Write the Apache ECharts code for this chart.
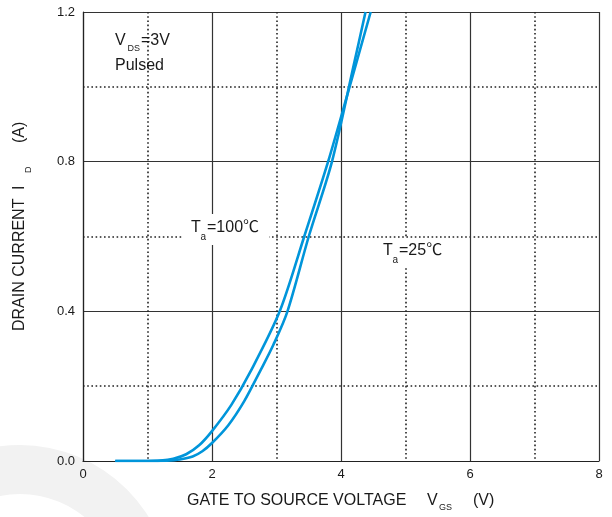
<!DOCTYPE html>
<html>
<head>
<meta charset="utf-8">
<script src="https://cdn.jsdelivr.net/npm/echarts@6/dist/echarts.min.js"></script>
<style>
html,body{margin:0;padding:0;background:#fff;}
#chart{width:612px;height:517px;}
</style>
</head>
<body>
<div id="chart"></div>
<script>
// Data
const vgs25 = [0.5, 1.0, 1.3, 1.5, 1.7, 1.85, 2.0, 2.25, 2.5, 2.76, 2.95, 3.17, 3.5, 3.86, 4.2, 4.38];
const id25  = [0, 0, 0.001, 0.004, 0.012, 0.026, 0.048, 0.095, 0.16, 0.245, 0.31, 0.4, 0.6, 0.8, 1.06, 1.2];
const vgs100 = [0.5, 1.0, 1.2, 1.4, 1.6, 1.8, 2.0, 2.3, 2.6, 3.05, 3.43, 3.8, 4.1, 4.46];
const id100  = [0, 0, 0.001, 0.006, 0.018, 0.042, 0.08, 0.15, 0.24, 0.4, 0.6, 0.8, 0.98, 1.2];
const xTicks = [0, 2, 4, 6, 8];
const yTicks = [0.0, 0.4, 0.8, 1.2];

const FONT = '"Liberation Sans", Arial, "Noto Sans CJK SC", sans-serif';
const TXT = '#1a1a1a';
const LINE = '#0095da';

function pairs(xs, ys){ return xs.map((x,i)=>[x, ys[i]]); }

function txt(x, y, s, size, opts){
  return Object.assign({
    type:'text', x:x, y:y, z:20,
    style:{text:s, fill:TXT, font: size + 'px ' + FONT, textAlign:'left', textVerticalAlign:'middle'}
  }, opts || {});
}

const chart = echarts.init(document.getElementById('chart'), null, {renderer:'canvas'});
chart.setOption({
  backgroundColor:'#fff',
  animation:false,
  grid:{left:83, right:13, top:12, bottom:56, containLabel:false},
  xAxis:{
    type:'value', min:xTicks[0], max:xTicks[xTicks.length-1], interval:xTicks[1]-xTicks[0],
    axisLine:{show:true, lineStyle:{color:'#222', width:1.2}},
    axisTick:{show:false},
    minorTick:{show:false, splitNumber:2},
    axisLabel:{color:TXT, fontSize:13, fontFamily:FONT, margin:7},
    splitLine:{show:true, lineStyle:{color:'#333', width:1.2}},
    minorSplitLine:{show:true, lineStyle:{color:'#222', width:1.6, type:[1.6, 2.6]}}
  },
  yAxis:{
    type:'value', min:yTicks[0], max:yTicks[yTicks.length-1], interval:yTicks[1]-yTicks[0],
    axisLine:{show:true, lineStyle:{color:'#222', width:1.2}},
    axisTick:{show:false},
    minorTick:{show:false, splitNumber:2},
    axisLabel:{color:TXT, fontSize:13, fontFamily:FONT, margin:8, formatter:v=>v.toFixed(1)},
    splitLine:{show:true, lineStyle:{color:'#333', width:1.2}},
    minorSplitLine:{show:true, lineStyle:{color:'#222', width:1.6, type:[1.6, 2.6]}}
  },
  series:[
    {type:'line', name:'Ta=25℃', data:pairs(vgs25, id25), smooth:0.3, showSymbol:false, symbol:'none',
     lineStyle:{color:LINE, width:2.6}, z:5},
    {type:'line', name:'Ta=100℃', data:pairs(vgs100, id100), smooth:0.3, showSymbol:false, symbol:'none',
     lineStyle:{color:LINE, width:2.6}, z:5}
  ],
  graphic:[
    // faint watermark arc
    {type:'ring', z:-10, shape:{cx:20, cy:596, r:151, r0:102}, style:{fill:'#f2f2f2'}, silent:true},
    // white boxes behind labels
    {type:'rect', z:15, shape:{x:183, y:214, width:86, height:31}, style:{fill:'#fff'}},
    {type:'rect', z:15, shape:{x:376, y:238, width:70, height:30}, style:{fill:'#fff'}},
    // VDS = 3V / Pulsed
    txt(115, 41, 'V', 16),
    txt(127.5, 49, 'DS', 9),
    txt(141, 41, '=3V', 16),
    txt(115, 66, 'Pulsed', 16),
    // Ta = 100℃
    txt(191, 228, 'T', 16),
    txt(200.5, 237, 'a', 10),
    txt(207, 228, '=100℃', 16),
    // Ta = 25℃
    txt(383, 251, 'T', 16),
    txt(392.5, 260, 'a', 10),
    txt(399, 251, '=25℃', 16),
    // X axis title
    txt(187, 501, 'GATE TO SOURCE VOLTAGE', 16),
    txt(427, 501, 'V', 16),
    txt(439, 508, 'GS', 9),
    txt(473, 501, '(V)', 16),
    // Y axis title (rotated)
    {type:'group', x:19.5, y:331, rotation:Math.PI/2, z:20, children:[
      txt(0, 0, 'DRAIN CURRENT', 16),
      txt(141, 0, 'I', 16),
      txt(158, 9, 'D', 9),
      txt(188, 0, '(A)', 16)
    ]}
  ]
});
</script>
</body>
</html>
